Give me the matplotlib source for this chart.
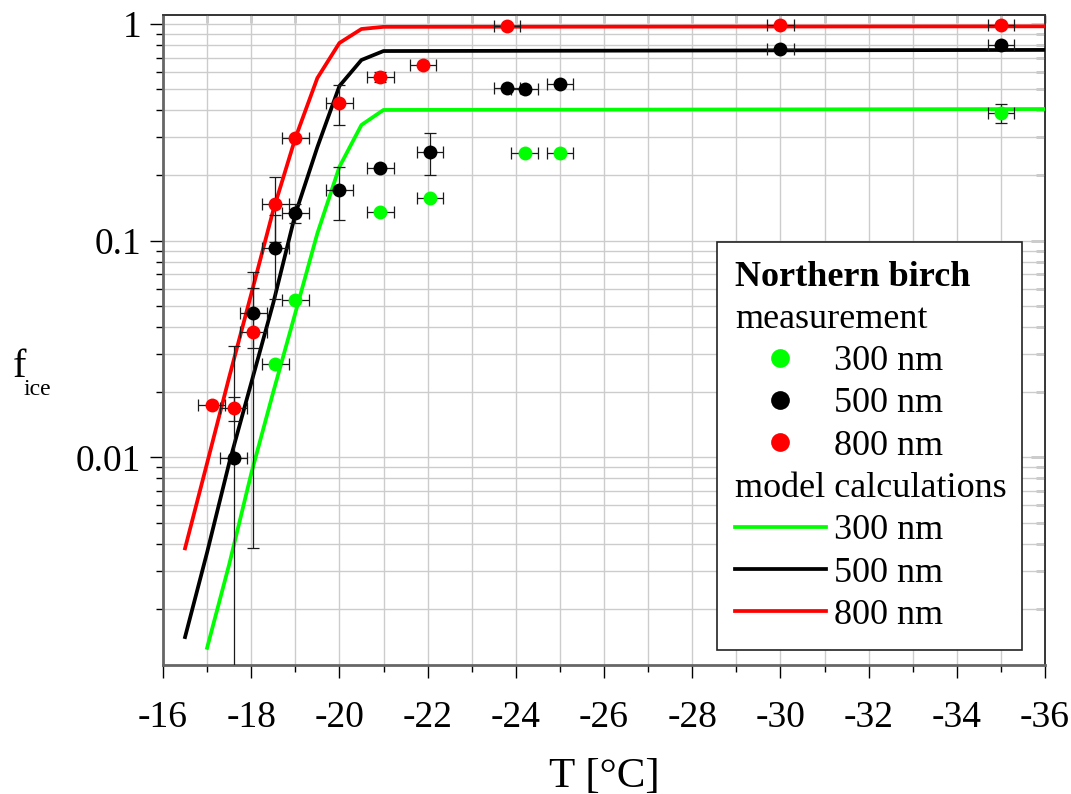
import numpy as np
import matplotlib
matplotlib.use('Agg')
import matplotlib.pyplot as plt
import matplotlib.ticker as ticker
from matplotlib.lines import Line2D
from matplotlib.text import Text
from matplotlib.legend_handler import HandlerBase

plt.rcParams['font.family'] = ['Liberation Serif', 'DejaVu Serif']
plt.rcParams['axes.unicode_minus'] = False

# measurements (T in degC, ice fraction)
T_300 = [-18.55, -19.0, -20.93, -22.05, -24.2, -25.0, -35.0]
f_300 = [0.027, 0.053, 0.135, 0.157, 0.254, 0.255, 0.388]
ferr_300 = [0, 0, 0, 0, 0, 0, 0.039]

T_500 = [-17.6, -18.05, -18.55, -19.0, -20.0, -20.93, -22.05, -23.8, -24.2, -25.0, -30.0, -35.0]
f_500 = [0.0099, 0.0463, 0.0923, 0.134, 0.172, 0.216, 0.257, 0.506, 0.501, 0.528, 0.77, 0.80]
ferr_500 = [0.0226, 0.0143, 0.0387, 0.014, 0.047, 0, 0.057, 0, 0, 0, 0, 0]

T_800 = [-17.1, -17.6, -18.05, -18.55, -19.0, -20.0, -20.93, -21.9, -23.8, -30.0, -35.0]
f_800 = [0.0174, 0.0168, 0.0378, 0.1475, 0.297, 0.432, 0.569, 0.645, 0.979, 0.985, 0.99]
ferr_800 = [0, 0.0021, 0.034, 0.049, 0, 0.09, 0.03, 0, 0, 0, 0]

T_err = 0.3

# model calculations
T_mod = [-16.5, -17.0, -17.5, -18.0, -18.5, -19.0, -19.5, -20.0, -20.5, -21.0, -36.0]
mod_800 = [0.0038, 0.0094, 0.0234, 0.0566, 0.138, 0.297, 0.563, 0.817, 0.948, 0.970, 0.975]
mod_500 = [0.00148, 0.00364, 0.0094, 0.022, 0.0515, 0.1325, 0.270, 0.517, 0.682, 0.750, 0.759]
T_mod_300 = [-17.0, -17.5, -18.0, -18.5, -19.0, -19.5, -20.0, -20.5, -21.0, -36.0]
mod_300 = [0.00132, 0.0032, 0.0084, 0.020, 0.0463, 0.108, 0.219, 0.342, 0.401, 0.405]

green, black, red = '#00ff00', '#000000', '#ff0000'

fig = plt.figure(figsize=(10.71, 7.94), dpi=100)
ax = fig.add_axes([163/1071, 1-665/794, 882/1071, 650/794])

# model lines
ax.plot(T_mod_300, mod_300, color=green, lw=2.7, zorder=3)
ax.plot(T_mod, mod_500, color=black, lw=2.7, zorder=3)
ax.plot(T_mod, mod_800, color=red, lw=2.7, zorder=3)

# measurements with error bars
for T, f, ferr, c in [(T_300, f_300, ferr_300, green),
                      (T_500, f_500, ferr_500, black),
                      (T_800, f_800, ferr_800, red)]:
    T = np.array(T); f = np.array(f); ferr = np.array(ferr)
    ax.errorbar(T, f, xerr=T_err, fmt='none', ecolor='#1a1a1a',
                elinewidth=0.9, capsize=4.5, capthick=0.9, zorder=4)
    m = ferr > 0
    ax.errorbar(T[m], f[m], yerr=ferr[m], fmt='none', ecolor='#1a1a1a',
                elinewidth=0.9, capsize=4.5, capthick=0.9, zorder=4)
    ax.plot(T, f, 'o', ms=10, color=c, mec='none', zorder=5)

ax.set_yscale('log')
ax.set_xlim(-16, -36)
ax.set_ylim(0.0011, 1.1)

ax.xaxis.set_major_locator(ticker.MultipleLocator(2))
ax.xaxis.set_minor_locator(ticker.MultipleLocator(1))
ax.yaxis.set_major_locator(ticker.FixedLocator([0.01, 0.1, 1]))
ax.yaxis.set_major_formatter(ticker.FuncFormatter(lambda v, _: f'{v:g}'))
ax.yaxis.set_minor_locator(ticker.LogLocator(base=10, subs=np.arange(2, 10)))
ax.yaxis.set_minor_formatter(ticker.NullFormatter())

ax.tick_params(which='major', direction='out', length=9.5, width=1,
               labelsize=27, top=False, right=False)
ax.tick_params(which='minor', direction='out', length=5, width=1,
               top=False, right=False)
ax.tick_params(axis='x', which='major', pad=16)
ax.tick_params(axis='y', which='major', pad=6)

ax.grid(which='both', color='#cccccc', lw=1)
ax.set_axisbelow(True)

# inward ticks on top and right
secx = ax.secondary_xaxis('top')
secx.xaxis.set_major_locator(ticker.MultipleLocator(1))
secx.tick_params(direction='in', length=6, width=1, labeltop=False)
secy = ax.secondary_yaxis('right')
secy.yaxis.set_major_locator(ticker.FixedLocator([0.01, 0.1, 1]))
secy.yaxis.set_minor_locator(ticker.LogLocator(base=10, subs=np.arange(2, 10)))
secy.tick_params(which='major', direction='in', length=10, width=1, labelright=False)
secy.tick_params(which='minor', direction='in', length=6.5, width=1, labelright=False)
secy.yaxis.set_minor_formatter(ticker.NullFormatter())

for s in ['left', 'bottom']:
    ax.spines[s].set_color('#666666')
    ax.spines[s].set_linewidth(2)
for s in ['top', 'right']:
    ax.spines[s].set_color('#333333')
    ax.spines[s].set_linewidth(1.2)
for sa in (secx, secy):
    for sp in sa.spines.values():
        sp.set_color('#333333')
        sp.set_linewidth(1.2)

ax.set_xlabel('T [°C]', fontsize=31, labelpad=16)
fig.text(13/1071, 1-377/794, 'f', fontsize=29, va='baseline', ha='left')
fig.text(23/1071, 1-395/794, 'ice', fontsize=17, va='baseline', ha='left')


# legend with header rows
class Header:
    def __init__(self, text, bold=False):
        self.text = text
        self.bold = bold


class HeaderHandler(HandlerBase):
    def create_artists(self, legend, orig_handle, xdescent, ydescent,
                       width, height, fontsize, trans):
        t = Text(-xdescent, 0, orig_handle.text, fontsize=fontsize,
                 fontweight='bold' if orig_handle.bold else 'normal',
                 va='baseline', ha='left', transform=trans)
        return [t]


handles = [
    Header('Northern birch', bold=True),
    Header('measurement'),
    Line2D([], [], marker='o', ls='none', ms=10, color=green, mec='none'),
    Line2D([], [], marker='o', ls='none', ms=10, color=black, mec='none'),
    Line2D([], [], marker='o', ls='none', ms=10, color=red, mec='none'),
    Header('model calculations'),
    Line2D([], [], color=green, lw=2.7),
    Line2D([], [], color=black, lw=2.7),
    Line2D([], [], color=red, lw=2.7),
]
labels = [' ', ' ', '300 nm', '500 nm', '800 nm', ' ', '300 nm', '500 nm', '800 nm']

leg = ax.legend(handles, labels, handler_map={Header: HeaderHandler()},
                loc='lower left', bbox_to_anchor=(0.628, 0.023, 0.346, 0.63),
                mode='expand', borderaxespad=0, fontsize=26,
                handlelength=2.52, handletextpad=0.22, labelspacing=0.25,
                borderpad=0.5, markerscale=1.35, numpoints=1,
                fancybox=False, framealpha=1, edgecolor='#222222')
leg.get_frame().set_linewidth(1.2)
leg.set_zorder(10)

fig.savefig('out.png', dpi=100)
